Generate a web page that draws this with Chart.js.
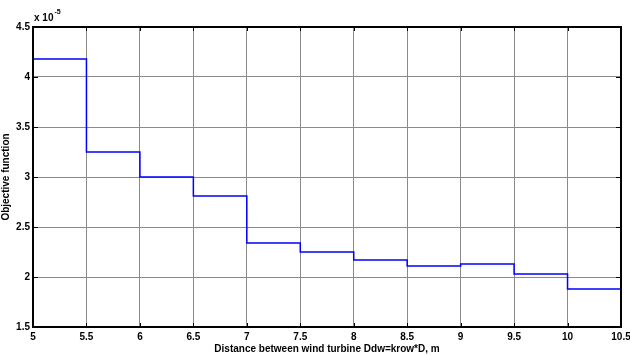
<!DOCTYPE html>
<html>
<head>
<meta charset="utf-8">
<script src="https://cdn.jsdelivr.net/npm/chart.js@4"></script>
<style>
  html, body { margin: 0; padding: 0; background: #fff; }
  #wrap { width: 630px; height: 356px; }
</style>
</head>
<body>
<div id="wrap"><canvas id="objChart" width="630" height="356"></canvas></div>
<script>
// left edge of each spacing interval (krow)
const krowStart = [5, 5.5, 6, 6.5, 7, 7.5, 8, 8.5, 9, 9.5, 10];
const krowEnd = 10.5;
// objective value on each interval, in units of 1e-5
const objectiveE5 = [4.18, 3.25, 3.0, 2.81, 2.34, 2.25, 2.17, 2.11, 2.13, 2.03, 1.88];
const yTicks = [1.5, 2, 2.5, 3, 3.5, 4, 4.5];
const xTicks = [5, 5.5, 6, 6.5, 7, 7.5, 8, 8.5, 9, 9.5, 10, 10.5];

const FONT = '"Liberation Sans", Arial, sans-serif';

// stair points: every interval start, then the closing edge at the last value
const stairs = krowStart.map((k, i) => ({ x: k, y: objectiveE5[i] }));
stairs.push({ x: krowEnd, y: objectiveE5[objectiveE5.length - 1] });

// box around the axes, inward tick marks and the "x 10^-5" multiplier
const matlabAxes = {
    id: 'matlabAxes',
    afterDraw(chart) {
        const { ctx, chartArea: a, scales } = chart;
        ctx.save();
        ctx.strokeStyle = '#000';
        ctx.lineWidth = 1;
        ctx.beginPath();
        xTicks.forEach(v => {
            const px = Math.round(scales.x.getPixelForValue(v)) + 0.5;
            ctx.moveTo(px, a.bottom); ctx.lineTo(px, a.bottom - 4);
            ctx.moveTo(px, a.top); ctx.lineTo(px, a.top + 4);
        });
        yTicks.forEach(v => {
            const py = Math.round(scales.y.getPixelForValue(v)) + 0.5;
            ctx.moveTo(a.left, py); ctx.lineTo(a.left + 5, py);
            ctx.moveTo(a.right, py); ctx.lineTo(a.right - 5, py);
        });
        ctx.stroke();

        ctx.lineWidth = 2;
        ctx.strokeRect(a.left, a.top, a.right - a.left, a.bottom - a.top);

        ctx.fillStyle = '#000';
        ctx.textBaseline = 'alphabetic';
        ctx.font = 'bold 10px ' + FONT;
        ctx.fillText('x 10', a.left + 1, a.top - 6);
        const w = ctx.measureText('x 10').width;
        ctx.font = 'bold 7px ' + FONT;
        ctx.fillText('-5', a.left + 2 + w, a.top - 13);
        ctx.restore();
    }
};

new Chart(document.getElementById('objChart'), {
    type: 'line',
    data: {
        datasets: [{
            data: stairs,
            stepped: 'before',
            borderColor: '#0000ff',
            borderWidth: 1.5,
            pointRadius: 0,
            fill: false
        }]
    },
    options: {
        responsive: false,
        animation: false,
        layout: { padding: { top: 27, right: 9, left: 0, bottom: 0 } },
        plugins: { legend: { display: false }, tooltip: { enabled: false } },
        scales: {
            x: {
                type: 'linear',
                min: 5,
                max: 10.5,
                afterBuildTicks: s => { s.ticks = xTicks.map(v => ({ value: v })); },
                afterFit: s => { s.height = 29; s.paddingLeft = 0; s.paddingRight = 0; },
                grid: { color: '#8a8a8a', lineWidth: 1, drawTicks: false },
                border: { display: false },
                ticks: {
                    padding: 4,
                    color: '#000',
                    maxRotation: 0,
                    font: { family: FONT, size: 10, weight: 'bold' },
                    callback: v => String(v)
                },
                title: {
                    display: true,
                    text: 'Distance between wind turbine Ddw=krow*D, m',
                    color: '#000',
                    padding: { top: 0, bottom: 1 },
                    font: { family: FONT, size: 10, weight: 'bold' }
                }
            },
            y: {
                min: 1.5,
                max: 4.5,
                afterBuildTicks: s => { s.ticks = yTicks.map(v => ({ value: v })); },
                afterFit: s => { s.width = 33; s.paddingTop = 0; s.paddingBottom = 0; },
                grid: { color: '#8a8a8a', lineWidth: 1, drawTicks: false },
                border: { display: false },
                ticks: {
                    padding: 3,
                    color: '#000',
                    font: { family: FONT, size: 10, weight: 'bold' },
                    callback: v => String(v)
                },
                title: {
                    display: true,
                    text: 'Objective function',
                    color: '#000',
                    padding: { top: 0, bottom: 0 },
                    font: { family: FONT, size: 10, weight: 'bold' }
                }
            }
        }
    },
    plugins: [matlabAxes]
});
</script>
</body>
</html>
